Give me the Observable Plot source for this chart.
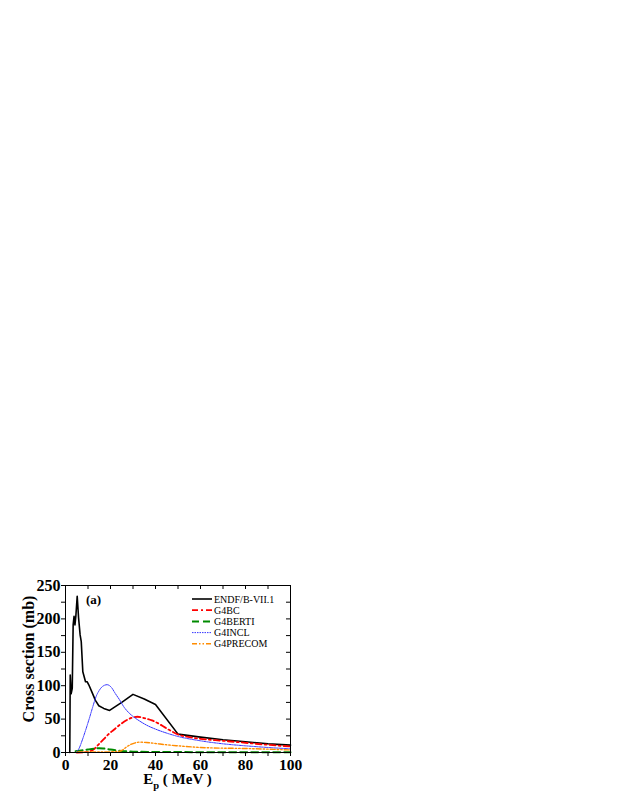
<!DOCTYPE html>
<html><head><meta charset="utf-8">
<script src="https://cdn.jsdelivr.net/npm/d3@7"></script>
<script src="https://cdn.jsdelivr.net/npm/@observablehq/plot@0.6"></script>
<style>body{margin:0;background:#fff;}</style>
</head><body><div id="chart"></div>
<script>
// ---- data ----
const endfE  = [1.9, 2.1, 2.5, 3.0, 3.4, 3.8, 4.2, 4.6, 5.2, 5.8, 6.5, 7.0, 7.7, 8.9, 9.6, 10.4, 11.8, 13.3, 14.8, 17.0, 19.6, 25, 30, 35, 40, 50, 60, 70, 80, 90, 100];
const endfXS = [0, 116, 88, 96, 191, 204, 191, 204, 234, 202, 176, 166, 121, 106, 106, 101, 90, 78, 70, 66, 63, 75, 87, 80, 72, 27.5, 23, 19, 16, 13, 11];

const bcE  = [5, 9, 11, 13, 14.4, 17, 19, 21.5, 23.6, 26, 29.5, 32, 35, 38.4, 41, 44, 47, 50, 55, 60, 70, 80, 90, 100];
const bcXS = [0, 0.5, 2, 6, 11, 20, 27, 34, 40, 46, 52, 53.5, 51.5, 48, 44, 38, 32, 27, 23, 20.5, 17.5, 14.5, 11.5, 9];

const bertiE  = [4.5, 7, 10, 13, 15, 17, 20, 23, 26, 30, 40, 60, 100];
const bertiXS = [2, 3, 4.5, 6, 6.5, 6, 4.5, 3, 2, 1.2, 0.8, 0.5, 0.3];

const inclE  = [4.5, 6, 7.5, 9, 10.5, 12, 13.5, 15, 16.5, 18.5, 20.5, 22, 24, 26, 28, 30, 33, 36, 40, 45, 50, 60, 70, 80, 90, 100];
const inclXS = [0, 6, 19, 34, 50, 67, 83, 93, 99, 101.5, 97, 89, 79, 68, 60, 54, 47, 41, 35, 29, 24, 17.5, 13, 10, 7.5, 5.5];

const precE  = [5, 10, 15, 20, 23, 25, 27, 29, 31, 33, 36, 40, 45, 50, 60, 70, 80, 90, 100];
const precXS = [0.5, 1, 1, 1, 1.5, 3, 8, 12, 14.5, 15.5, 15, 13.5, 11.5, 10, 7.5, 6.5, 6, 5, 3.8];

const seriesNames = ["ENDF/B-VII.1", "G4BC", "G4BERTI", "G4INCL", "G4PRECOM"];

const xTicks  = [0, 10, 20, 30, 40, 50, 60, 70, 80, 90, 100];
const xLabels = [0, 20, 40, 60, 80, 100];
const yTicks  = [0, 25, 50, 75, 100, 125, 150, 175, 200, 225, 250];
const yLabels = [0, 50, 100, 150, 200, 250];

// ---- layout / styles ----
const W = 623, H = 806, mL = 65, mR = 333, mT = 585, mB = 54;
const innerW = W - mL - mR, innerH = H - mT - mB;
const FONT = "'Liberation Serif', 'Times New Roman', serif";

const styles = [
  {stroke: "#000000", width: 1.6, dash: null, curve: "linear"},
  {stroke: "#ff0000", width: 1.8, dash: "6,3,2,3", curve: "monotone-x"},
  {stroke: "#008a00", width: 2.0, dash: "7,4", curve: "monotone-x"},
  {stroke: "#3333ff", width: 1.0, dash: "1.5,1", curve: "monotone-x"},
  {stroke: "#ff8c00", width: 1.4, dash: "5,2,1.5,2,1.5,2", curve: "monotone-x"}
];
const seriesData = [[endfE, endfXS], [bcE, bcXS], [bertiE, bertiXS], [inclE, inclXS], [precE, precXS]];
const rows = (E, S) => E.map((e, i) => ({E: e, S: S[i]}));

const lineMarks = seriesData.map(([E, S], i) => Plot.line(rows(E, S), {
  x: "E", y: "S", stroke: styles[i].stroke, strokeWidth: styles[i].width,
  strokeDasharray: styles[i].dash, curve: styles[i].curve
}));

const chart = Plot.plot({
  width: W, height: H,
  marginLeft: mL, marginRight: mR, marginTop: mT, marginBottom: mB,
  style: {fontFamily: FONT, background: "white", color: "black"},
  x: {domain: [0, 100]},
  y: {domain: [0, 250]},
  marks: [
    ...lineMarks,
    Plot.frame({stroke: "black", strokeWidth: 1}),
    Plot.axisX({ticks: xTicks, tickSize: 4, tickPadding: 2, label: null,
      tickFormat: d => xLabels.includes(d) ? String(d) : "",
      fontSize: 15.5, fontWeight: "bold"}),
    Plot.axisY({ticks: yTicks, tickSize: 4, tickPadding: 1, label: null,
      tickFormat: d => yLabels.includes(d) ? String(d) : "",
      fontSize: 16, fontWeight: "bold"}),
    Plot.tickX(xTicks, {x: d => d, insetBottom: innerH - 4, stroke: "black"}),
    Plot.tickY(yTicks, {y: d => d, insetLeft: innerW - 4, stroke: "black"})
  ]
});
document.getElementById("chart").appendChild(chart);

// ---- annotations ----
const svg = d3.select(chart);
svg.append("text")
  .attr("transform", "translate(34,659) rotate(-90)")
  .attr("text-anchor", "middle").attr("font-family", FONT)
  .attr("font-weight", "bold").attr("font-size", 16)
  .text("Cross section (mb)");

const xl = svg.append("text")
  .attr("x", 177.5).attr("y", 784).attr("text-anchor", "middle")
  .attr("font-family", FONT).attr("font-weight", "bold").attr("font-size", 15);
xl.append("tspan").text("E");
xl.append("tspan").attr("font-size", 10.5).attr("dy", 5).text("p");
xl.append("tspan").attr("dy", -5).text(" ( MeV )");

svg.append("text").attr("x", 86).attr("y", 604).attr("text-anchor", "start")
  .attr("font-family", FONT).attr("font-weight", "bold").attr("font-size", 13)
  .text("(a)");

const lg = svg.append("g").attr("text-anchor", "start");
seriesNames.forEach((name, i) => {
  const y = 599 + i * 11.2;
  lg.append("line").attr("x1", 192).attr("x2", 212).attr("y1", y).attr("y2", y)
    .attr("stroke", styles[i].stroke).attr("stroke-width", styles[i].width)
    .attr("stroke-dasharray", styles[i].dash);
  lg.append("text").attr("x", 214).attr("y", y + 3.5).attr("text-anchor", "start")
    .attr("font-family", FONT).attr("font-size", 10).text(name);
});
</script>
</body></html>
